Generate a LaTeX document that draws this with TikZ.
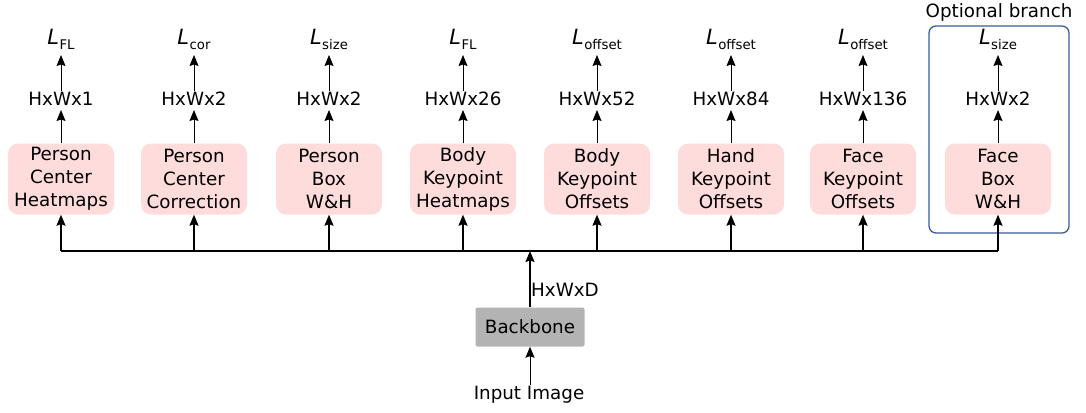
\documentclass[tikz,border=0pt]{standalone}
\usepackage{fontspec}
\setmainfont{DejaVu Sans}
\usetikzlibrary{arrows.meta}
\definecolor{headpink}{HTML}{FFDCDC}
\definecolor{bbgray}{HTML}{B3B3B3}
\definecolor{optblue}{HTML}{3A5A9A}
\tikzset{
  head/.style={fill=headpink, rounded corners=10pt, minimum width=106pt, minimum height=71pt, inner sep=0pt, align=center},
  shapelbl/.style={inner sep=1pt},
  losslbl/.style={inner sep=0pt, anchor=base},
  arr/.style={-{Stealth[length=11pt,width=9pt,inset=1.5pt]}, line width=1pt},
  busarr/.style={arr, line width=1.5pt},
  bus/.style={line width=2pt},
}
\newcommand{\lossname}[1]{{\fontsize{21}{21}\selectfont\itshape L}\kern0.5pt\raisebox{-5pt}{\fontsize{13.3}{13.3}\selectfont #1}}
\begin{document}
\begin{tikzpicture}[x=1pt,y=-1pt,font=\fontsize{18.3}{23}\selectfont]
\useasboundingbox (0,0) rectangle (1086,412);

% optional branch frame
\node[draw=optblue, line width=1.3pt, rounded corners=7pt, minimum width=140pt, minimum height=207pt, inner sep=0pt] (opt) at (999,129.5) {};
\node (optlbl) at (999,12) {Optional branch};

% output heads
\foreach \i/\x/\txt/\shp/\loss in {
  1/61/{Person\\Center\\Heatmaps}/HxWx1/FL,
  2/194/{Person\\Center\\Correction}/HxWx2/cor,
  3/329/{Person\\Box\\W\&H}/HxWx2/size,
  4/463/{Body\\Keypoint\\Heatmaps}/HxWx26/FL,
  5/597/{Body\\Keypoint\\Offsets}/HxWx52/offset,
  6/731/{Hand\\Keypoint\\Offsets}/HxWx84/offset,
  7/863/{Face\\Keypoint\\Offsets}/HxWx136/offset,
  8/998/{Face\\Box\\W\&H}/HxWx2/size} {
  \node[head] (b\i) at (\x,179) {\txt};
  \node[shapelbl] (s\i) at (\x,99) {\shp};
  \node[losslbl] (l\i) at (\x,45) {\lossname{\loss}};
  \coordinate (t\i) at (\x,251);
  \draw[arr] (b\i.north) -- (s\i.north |- 0,110);
  \draw[arr] (s\i.north) -- (s\i.north |- 0,55);
  \draw[busarr] (t\i) -- (b\i.south);
}

% shared feature bus
\draw[bus] (t1) -- (t8);

% backbone
\node[fill=bbgray, rounded corners=2pt, minimum width=109pt, minimum height=39pt, inner sep=0pt] (bb) at (530,327) {Backbone};
\node[inner sep=1pt] (inp) at (529,395) {Input Image};
\coordinate (join) at (530,251);
\node[anchor=west, inner sep=0pt] (feat) at (531,290) {HxWxD};
\draw[busarr] (bb.north) -- (join);
\draw[arr] (bb.south |- inp.north) -- (bb.south);
\end{tikzpicture}
\end{document}
